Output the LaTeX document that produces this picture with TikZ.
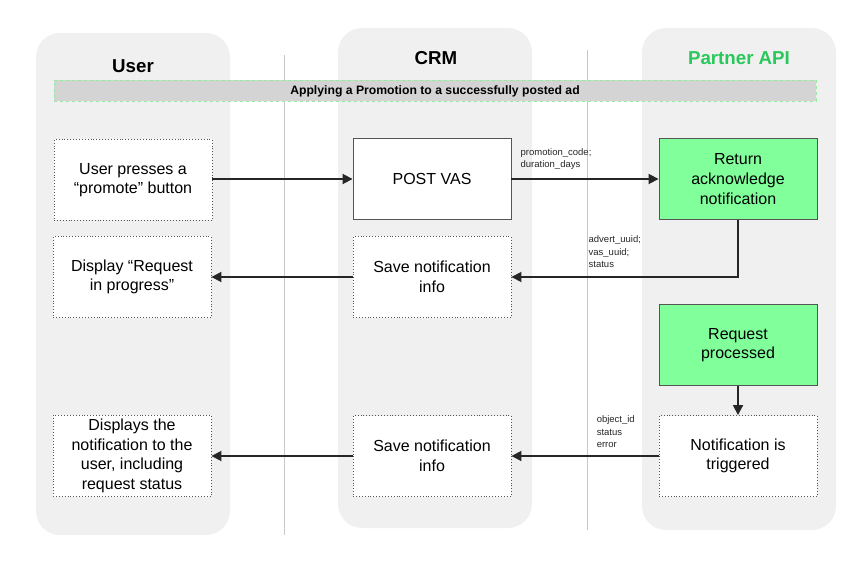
\documentclass[tikz,border=0pt]{standalone}
\usepackage{fontspec}
\setmainfont{Liberation Sans}
\usepackage{tikz}
\usetikzlibrary{
  arrows.meta,
  positioning,
  calc
}
\definecolor{lanegray}{RGB}{240,240,240}
\definecolor{sepgray}{RGB}{200,200,200}
\definecolor{bannergray}{RGB}{212,212,212}
\definecolor{bannergreen}{RGB}{150,235,160}
\definecolor{partnergreen}{RGB}{40,200,90}
\definecolor{boxgreen}{RGB}{128,255,155}
\definecolor{edgegray}{RGB}{85,85,85}
\tikzset{
  lane/.style={fill=lanegray,rounded corners=24pt},
  sepline/.style={draw=sepgray,line width=0.9pt},
  flowbox/.style={
    rectangle,
    align=center,
    minimum height=81pt,
    minimum width=158pt,
    inner sep=4pt,
    font=\fontsize{16}{19.6}\selectfont
  },
  dotbox/.style={flowbox,draw=edgegray,dotted,line width=0.9pt,fill=white},
  plainbox/.style={flowbox,draw=edgegray,line width=0.9pt,fill=white},
  partnerbox/.style={flowbox,draw=edgegray,line width=0.9pt,fill=boxgreen},
  lanetitle/.style={font=\fontsize{18.7}{22}\selectfont\bfseries},
  msglabel/.style={align=left,inner sep=0pt,font=\fontsize{9.5}{12.5}\selectfont,text=black!85},
  flowarrow/.style={-{Triangle[length=10pt,width=10pt]},line width=1.8pt,draw=black!85}
}
\begin{document}
\begin{tikzpicture}[x=1pt,y=-1pt]
  \useasboundingbox (0,0) rectangle (861,561);
  % swim lanes
  \fill[lane] (36,33) rectangle (230,535);
  \fill[lane] (338,28) rectangle (532,528);
  \fill[lane] (642,28) rectangle (836,530);
  \draw[sepline] (284,55) -- (284,535);
  \draw[sepline] (587,50) -- (587,530);

  \node[lanetitle] (tuser) at (133,66) {User};
  \node[lanetitle] (tcrm) at (436,58) {CRM};
  \node[lanetitle,text=partnergreen] (tapi) at (739,58) {Partner API};

  \node[draw=bannergreen,dashed,fill=bannergray,minimum width=762pt,minimum height=21pt,
    inner sep=0pt,font=\fontsize{12.2}{14}\selectfont\bfseries] (banner) at (435,91)
    {Applying a Promotion to a successfully posted ad};

  % boxes
  \node[dotbox] (u1) at (133,180) {User presses a\\``promote'' button};
  \node[plainbox] (c1) at (432,179) {POST VAS};
  \node[partnerbox] (p1) at (738,179) {Return\\acknowledge\\notification};

  \node[dotbox] (u2) at (132,277) {Display ``Request\\in progress''};
  \node[dotbox] (c2) at (432,277) {Save notification\\info};

  \node[partnerbox] (p2) at (738,345) {Request\\processed};

  \node[dotbox] (u3) at (132,456) {Displays the\\notification to the\\user, including\\request status};
  \node[dotbox] (c3) at (432,456) {Save notification\\info};
  \node[dotbox] (p3) at (738,456) {Notification is\\triggered};

  % messages
  \draw[flowarrow] (u1.east |- c1) -- (c1);
  \draw[flowarrow] (c1) -- (p1);
  \node[msglabel,anchor=south west] (m1) at ($(c1.east)+(9,-9)$) {promotion\_code;\\duration\_days};

  \draw[flowarrow] (p1.south) |- (c2.east);
  \node[msglabel,anchor=south west] (m2) at ($(c2.east)+(77,-9)$) {advert\_uuid;\\vas\_uuid;\\status};
  \draw[flowarrow] (c2) -- (u2);

  \draw[flowarrow] (p2) -- (p3);
  \draw[flowarrow] (p3) -- (c3);
  \node[msglabel,anchor=south west] (m3) at ($(p3.west)+(-62,-8)$) {object\_id\\status\\error};
  \draw[flowarrow] (c3) -- (u3);
\end{tikzpicture}
\end{document}
